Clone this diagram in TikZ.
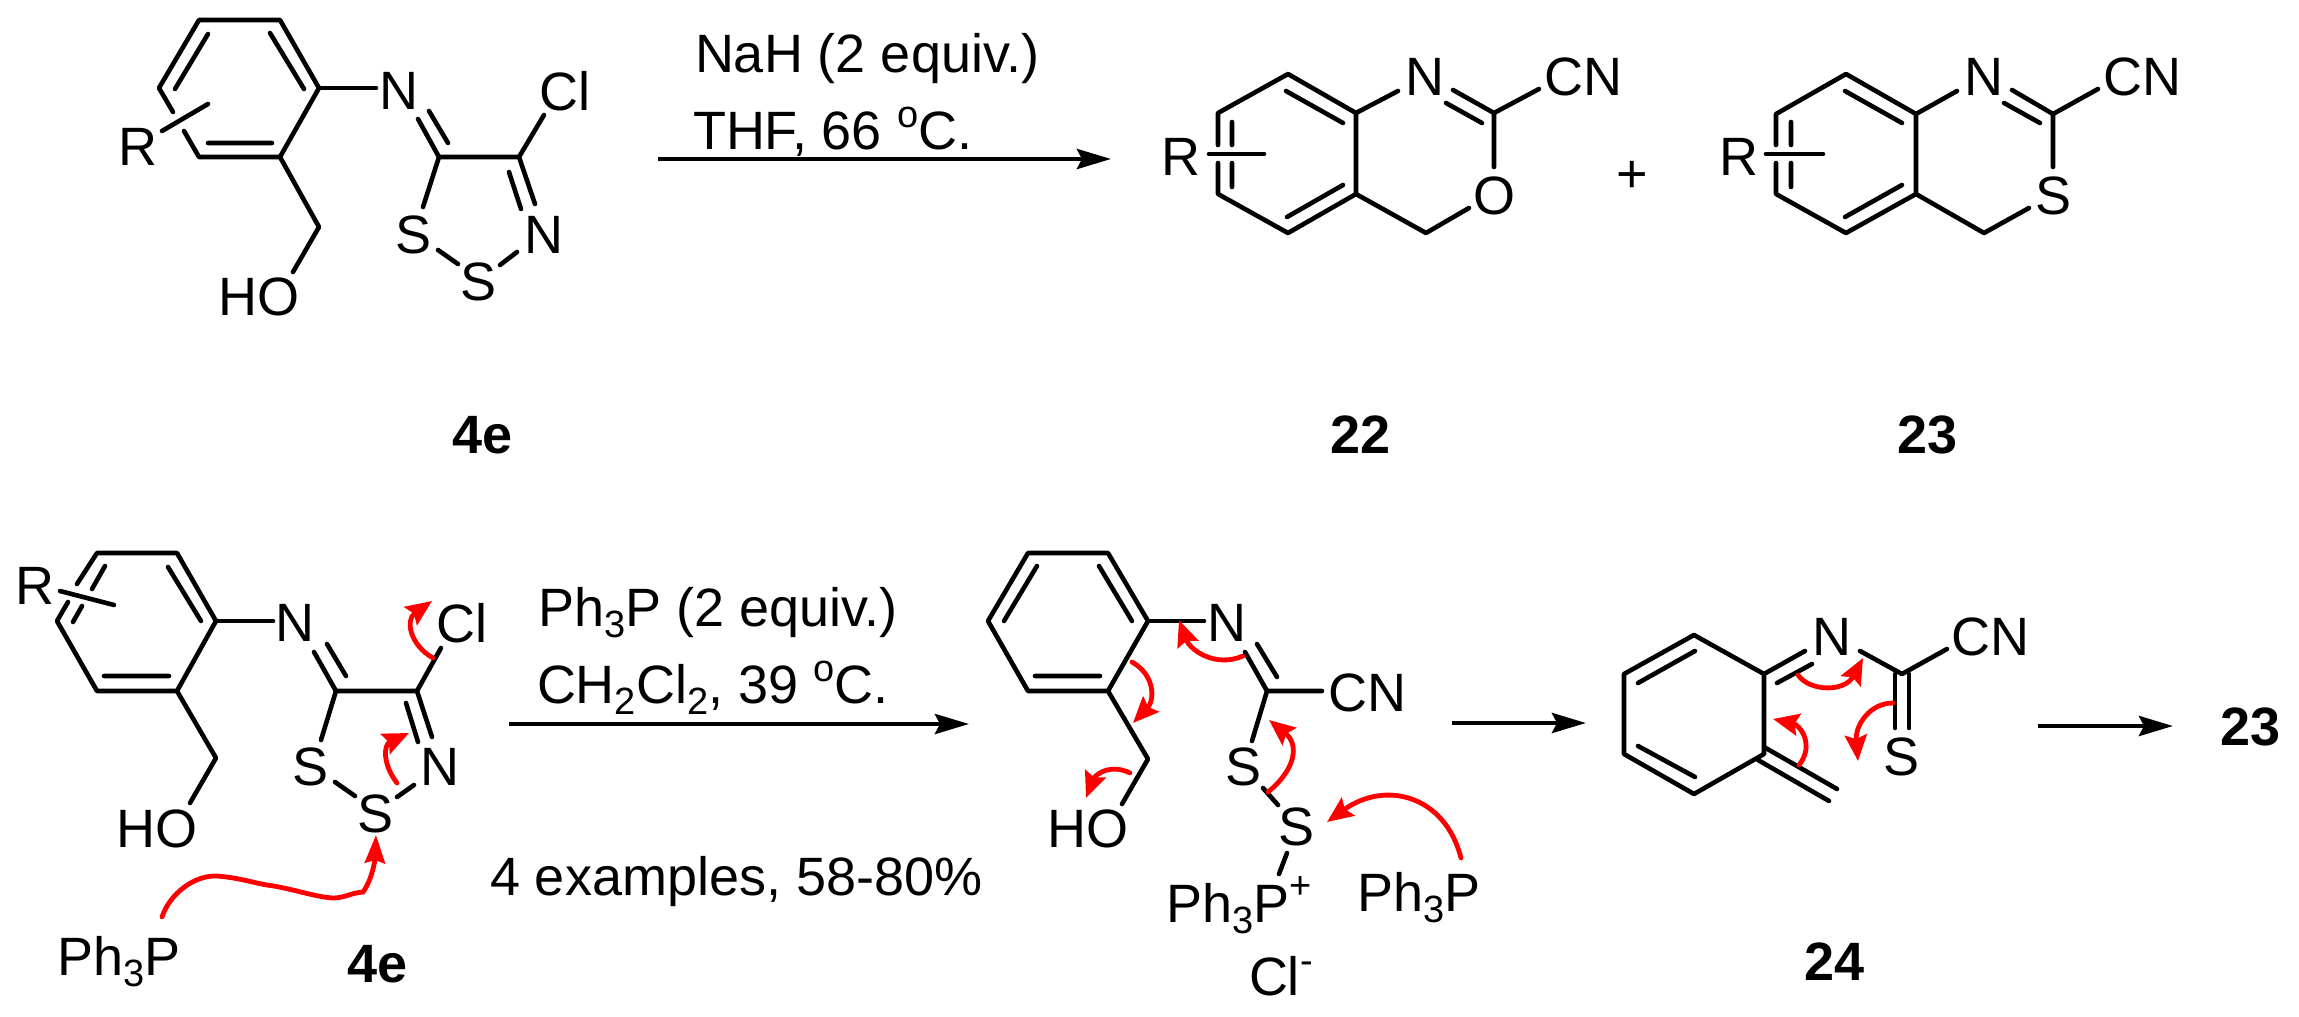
\documentclass[tikz,border=0pt]{standalone}
\usepackage{fontspec}
\setmainfont{Liberation Sans}
\usetikzlibrary{arrows.meta}
\newcommand{\sbt}[1]{\raisebox{-5.5pt}{\fontsize{19}{19}\selectfont #1}}
\newcommand{\spt}[2]{\raisebox{#1}{\fontsize{19}{19}\selectfont #2}}
\tikzset{
  atom/.style={inner sep=0pt,outer sep=0pt,font=\fontsize{27}{27}\selectfont},
  txt/.style={atom,anchor=base west},
  cpd/.style={inner sep=0pt,outer sep=0pt,anchor=base west,font=\fontsize{27}{27}\selectfont\bfseries},
  bond/.style={line width=2.3pt,line cap=round,line join=round},
  rxn/.style={line width=2.3pt,-{Stealth[length=17pt,width=10pt,inset=2.5pt]}},
  push/.style={red,line width=2.4pt,line cap=round,-{Stealth[length=13pt,width=11pt,inset=2pt]}},
  pushbig/.style={red,line width=2.4pt,line cap=round,-{Stealth[length=14pt,width=10pt,inset=1.5pt]}}
}
\begin{document}
\begin{tikzpicture}[x=0.5pt,y=-0.5pt]
\useasboundingbox (0,0) rectangle (2299,1017);

% ---------- 4e (top) ----------
\coordinate (a1) at (199,20); \coordinate (a2) at (280,20); \coordinate (a3) at (319,88);
\coordinate (a4) at (280,157); \coordinate (a5) at (199,157); \coordinate (a6) at (159,88);
\coordinate (a7) at (439,157); \coordinate (a8) at (519,157); \coordinate (a9) at (319,227);
\node[atom] (aR) at (138,147) {R};
\node[atom] (aN) at (399,91) {N};
\node[atom] (aCl) at (565,91) {Cl};
\node[atom] (aS1) at (414,235) {S};
\node[atom] (aN2) at (544,235) {N};
\node[atom] (aS2) at (479,282) {S};
\node[atom] (aHO) at (259,297) {HO};
\draw[bond] (173,112) -- (a6) -- (a1) -- (a2) -- (a3) -- (a4) -- (a5) -- (184,131);
\draw[bond] (208,34) -- (175,89) (270,33) -- (304,89) (208,143) -- (272,143);
\draw[bond] (162,131) -- (208,104);
\draw[bond] (a3) -- (376,88);
\draw[bond] (a7) -- (418,119) (429,111) -- (448,143);
\draw[bond] (a7) -- (a8) -- (544,115);
\draw[bond] (a8) -- (535,204) (509,172) -- (521,209);
\draw[bond] (a7) -- (423,207);
\draw[bond] (438,250) -- (458,264) (500,265) -- (517,252);
\draw[bond] (a4) -- (a9) -- (293,272);
\node[cpd] (l4e) at (452,453) {4e};

% ---------- first reaction arrow ----------
\node[txt] (r1) at (695,72) {NaH (2 equiv.)};
\node[txt] (r2) at (693,149) {THF, 66 \spt{11pt}{o}C.};
\coordinate (ar1s) at (658,159); \coordinate (ar1e) at (1111,159);
\draw[rxn] (ar1s) -- (ar1e);

% ---------- 22 ----------
\coordinate (b1) at (1288,74); \coordinate (b2) at (1356,113); \coordinate (b3) at (1356,194);
\coordinate (b4) at (1288,233); \coordinate (b5) at (1218,194); \coordinate (b6) at (1218,113);
\coordinate (b7) at (1494,113); \coordinate (b8) at (1426,233);
\node[atom] (bR) at (1181,157) {R};
\node[atom] (bN) at (1425,77) {N};
\node[atom] (bCN) at (1583,77) {CN};
\node[atom] (bO) at (1494,196) {O};
\draw[bond] (1218,145) -- (b6) -- (b1) -- (b2) -- (b3) -- (b4) -- (b5) -- (1218,163);
\draw[bond] (b3) -- (b8) -- (1469,208);
\draw[bond] (1286,91) -- (1343,123) (1232,122) -- (1232,145) (1232,163) -- (1232,187) (1343,185) -- (1287,217);
\draw[bond] (1209,154) -- (1264,154);
\draw[bond] (b2) -- (1398,91);
\draw[bond] (1453,90) -- (b7) (1446,103) -- (1482,123);
\draw[bond] (b7) -- (1539,89) (b7) -- (1494,167);
\node[atom] (plus) at (1632,177) {+};
\node[cpd] (l22) at (1330,453) {22};

% ---------- 23 ----------
\coordinate (c1) at (1846,74); \coordinate (c2) at (1916,114); \coordinate (c3) at (1916,194);
\coordinate (c4) at (1846,233); \coordinate (c5) at (1776,194); \coordinate (c6) at (1776,114);
\coordinate (c7) at (2053,114); \coordinate (c8) at (1984,233);
\node[atom] (cR) at (1739,157) {R};
\node[atom] (cN) at (1984,77) {N};
\node[atom] (cCN) at (2142,77) {CN};
\node[atom] (cS) at (2053,196) {S};
\draw[bond] (1776,145) -- (c6) -- (c1) -- (c2) -- (c3) -- (c4) -- (c5) -- (1776,163);
\draw[bond] (c3) -- (c8) -- (2029,208);
\draw[bond] (1845,91) -- (1902,123) (1791,122) -- (1791,145) (1791,163) -- (1791,187) (1902,185) -- (1845,217);
\draw[bond] (1766,154) -- (1823,154);
\draw[bond] (c2) -- (1957,91);
\draw[bond] (2012,90) -- (c7) (2004,103) -- (2040,123);
\draw[bond] (c7) -- (2098,89) (c7) -- (2053,167);
\node[cpd] (l23) at (1897,453) {23};

% ---------- 4e (bottom) ----------
\coordinate (d1) at (97,553); \coordinate (d2) at (177,553); \coordinate (d3) at (216,621);
\coordinate (d4) at (177,691); \coordinate (d5) at (97,691); \coordinate (d6) at (57,621);
\coordinate (d7) at (336,691); \coordinate (d8) at (417,691); \coordinate (d9) at (216,758);
\node[atom] (dR) at (35,586) {R};
\node[atom] (dN) at (295,623) {N};
\node[atom] (dCl) at (462,623) {Cl};
\node[atom] (dS1) at (311,767) {S};
\node[atom] (dN2) at (440,767) {N};
\node[atom] (dS2) at (376,814) {S};
\node[atom] (dHO) at (157,829) {HO};
\draw[bond] (77,584) -- (d1) -- (d2) -- (d3) -- (d4) -- (d5) -- (d6) -- (68,602);
\draw[bond] (105,566) -- (92,589) (82,606) -- (73,622) (168,567) -- (201,621) (104,676) -- (169,676);
\draw[bond] (60,591) -- (114,605);
\draw[bond] (d3) -- (273,621);
\draw[bond] (d7) -- (314,652) (327,644) -- (346,676);
\draw[bond] (d7) -- (d8) -- (441,648);
\draw[bond] (d8) -- (432,737) (406,703) -- (418,742);
\draw[bond] (d7) -- (321,740);
\draw[bond] (335,782) -- (355,796) (397,797) -- (414,785);
\draw[bond] (d4) -- (d9) -- (190,803);
\node[txt] (dP) at (57,975) {Ph\sbt{3}P};
\node[cpd] (l4e2) at (347,982) {4e};
\coordinate (p1s) at (433,658); \coordinate (p1e) at (432,601);
\coordinate (p2s) at (397,783); \coordinate (p2e) at (409,733);
\coordinate (p3s) at (162,917); \coordinate (p3e) at (376,835);
\draw[push] (p1s) .. controls (410,645) and (405,620) .. (p1e);
\draw[push] (p2s) .. controls (383,765) and (383,745) .. (p2e);
\draw[pushbig] (p3s) .. controls (170,893) and (195,875) .. (217,876)
  .. controls (240,878) and (250,882) .. (267,885)
  .. controls (290,888) and (315,897) .. (333,898)
  .. controls (345,898) and (350,893) .. (363,892)
  .. controls (372,880) and (375,860) .. (p3e);

% ---------- second reaction arrow ----------
\node[txt] (r3) at (538,626) {Ph\sbt{3}P (2 equiv.)};
\node[txt] (r4) at (537,703) {CH\sbt{2}Cl\sbt{2}, 39 \spt{11pt}{o}C.};
\node[txt] (r5) at (490,895) {4 examples, 58-80\%};
\coordinate (ar2s) at (509,724); \coordinate (ar2e) at (969,724);
\draw[rxn] (ar2s) -- (ar2e);

% ---------- intermediate ----------
\coordinate (e1) at (1028,553); \coordinate (e2) at (1108,553); \coordinate (e3) at (1148,621);
\coordinate (e4) at (1108,691); \coordinate (e5) at (1028,691); \coordinate (e6) at (988,621);
\coordinate (e7) at (1267,691); \coordinate (e9) at (1148,759);
\node[atom] (eN) at (1227,623) {N};
\node[atom] (eCN) at (1367,693) {CN};
\node[atom] (eS1) at (1243,767) {S};
\node[atom] (eS2) at (1296,827) {S};
\node[atom] (eHO) at (1088,829) {HO};
\node[txt] (eP) at (1166,922) {Ph\sbt{3}P\spt{12pt}{+}};
\node[txt] (eP2) at (1357,911) {Ph\sbt{3}P};
\node[txt] (eCl) at (1249,995) {Cl\spt{11pt}{-}};
\draw[bond] (e1) -- (e2) -- (e3) -- (e4) -- (e5) -- (e6) -- cycle;
\draw[bond] (1037,566) -- (1004,621) (1099,566) -- (1132,621) (1035,676) -- (1100,676);
\draw[bond] (e3) -- (1204,621);
\draw[bond] (e7) -- (1245,652) (1257,644) -- (1277,677);
\draw[bond] (e7) -- (1322,691) (e7) -- (1252,741);
\draw[bond] (1263,788) -- (1278,805) (1287,853) -- (1279,874);
\draw[bond] (e4) -- (e9) -- (1122,804);
\coordinate (q1s) at (1243,656); \coordinate (q1e) at (1179,620);
\coordinate (q2s) at (1132,662); \coordinate (q2e) at (1133,723);
\coordinate (q3s) at (1130,773); \coordinate (q3e) at (1086,798);
\coordinate (q4s) at (1268,792); \coordinate (q4e) at (1269,720);
\coordinate (q5s) at (1461,858); \coordinate (q5e) at (1327,822);
\draw[push] (q1s) .. controls (1215,668) and (1190,650) .. (q1e);
\draw[push] (q2s) .. controls (1155,675) and (1155,700) .. (q2e);
\draw[push] (q3s) .. controls (1110,763) and (1095,775) .. (q3e);
\draw[push] (q4s) .. controls (1295,770) and (1300,745) .. (q4e);
\draw[push] (q5s) .. controls (1445,795) and (1385,780) .. (q5e);

\coordinate (ar3s) at (1452,723); \coordinate (ar3e) at (1586,723);
\draw[rxn] (ar3s) -- (ar3e);

% ---------- 24 ----------
\coordinate (f1) at (1694,635); \coordinate (f2) at (1764,674); \coordinate (f3) at (1764,754);
\coordinate (f4) at (1694,794); \coordinate (f5) at (1624,754); \coordinate (f6) at (1624,674);
\node[atom] (fN) at (1832,637) {N};
\node[atom] (fCN) at (1990,637) {CN};
\node[atom] (fS) at (1901,757) {S};
\draw[bond] (f1) -- (f2) -- (f3) -- (f4) -- (f5) -- (f6) -- cycle;
\draw[bond] (1638,683) -- (1695,651) (1638,746) -- (1695,777);
\draw[bond] (f2) -- (1805,651) (1777,683) -- (1812,664);
\draw[bond] (1860,651) -- (1902,674) -- (1947,649);
\draw[bond] (1895,674) -- (1895,728) (1909,674) -- (1909,728);
\draw[bond] (1764,747) -- (1837,789) (1758,760) -- (1829,801);
\node[cpd] (l24) at (1804,980) {24};
\coordinate (s1s) at (1798,675); \coordinate (s1e) at (1863,658);
\coordinate (s2s) at (1893,703); \coordinate (s2e) at (1858,761);
\coordinate (s3s) at (1799,765); \coordinate (s3e) at (1773,719);
\draw[push] (s1s) .. controls (1810,692) and (1845,692) .. (s1e);
\draw[push] (s2s) .. controls (1870,703) and (1855,725) .. (s2e);
\draw[push] (s3s) .. controls (1815,745) and (1800,725) .. (s3e);

\coordinate (ar4s) at (2038,726); \coordinate (ar4e) at (2173,726);
\draw[rxn] (ar4s) -- (ar4e);
\node[cpd] (l23b) at (2220,745) {23};
\end{tikzpicture}
\end{document}
